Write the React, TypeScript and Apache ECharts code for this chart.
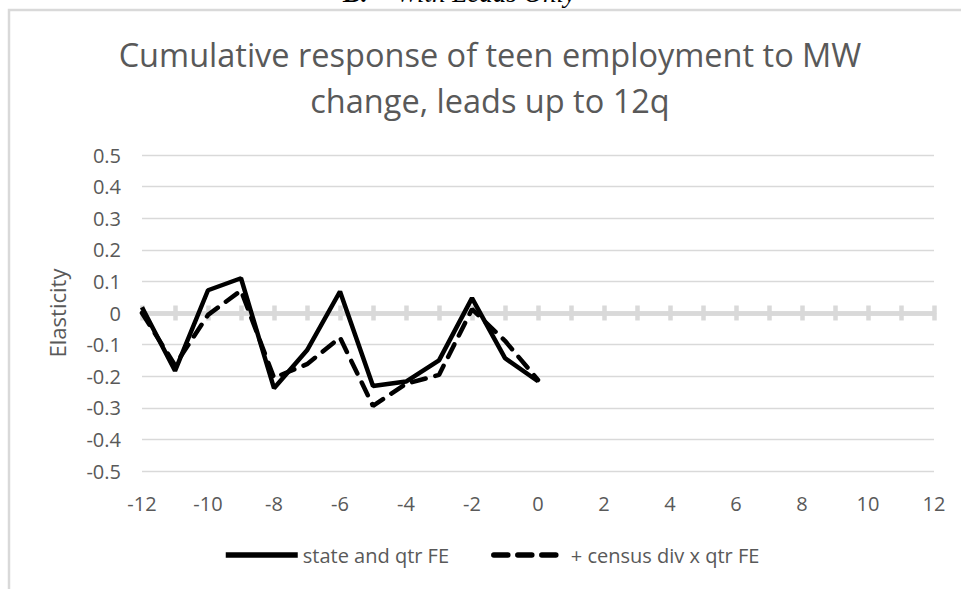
import React, { useEffect, useRef } from "react";
import * as echarts from "echarts";

const quarters = [-12, -11, -10, -9, -8, -7, -6, -5, -4, -3, -2, -1, 0];
const stateQtrFE = [0.018, -0.183, 0.072, 0.11, -0.238, -0.118, 0.068, -0.231, -0.217, -0.15, 0.047, -0.143, -0.216];
const censusDivFE = [0.0, -0.165, -0.006, 0.071, -0.205, -0.162, -0.078, -0.294, -0.224, -0.196, 0.012, -0.088, -0.212];
const seriesNames = ["state and qtr FE", "+ census div x qtr FE"];
const titleText = "Cumulative response of teen employment to MW\nchange, leads up to 12q";
const yAxisName = "Elasticity";

const FONT = "'Open Sans', 'Noto Sans', sans-serif";
const TXT = "#595959";
const GRID_GRAY = "#d9d9d9";

export default function App() {
  const ref = useRef<HTMLDivElement>(null);

  useEffect(() => {
    if (!ref.current) return;
    const chart = echarts.init(ref.current, null, { renderer: "svg" });
    const zeroAxis = (position: "top" | "bottom") => ({
      type: "value",
      position,
      min: -12,
      max: 12,
      interval: 1,
      axisLine: {
        show: true,
        onZero: true,
        onZeroAxisIndex: 0,
        lineStyle: { color: GRID_GRAY, width: 4.5 },
      },
      axisTick: { show: true, length: 7.5, lineStyle: { color: GRID_GRAY, width: 4.5 } },
      axisLabel: { show: false },
      splitLine: { show: false },
    });
    chart.setOption({
      animation: false,
      title: {
        text: titleText,
        left: 490,
        top: 31,
        textAlign: "center",
        padding: 0,
        textStyle: {
          fontFamily: FONT,
          fontSize: 32.5,
          fontWeight: "normal",
          color: TXT,
          lineHeight: 46,
        },
      },
      grid: { left: 142, right: 27, top: 155, bottom: 118, containLabel: false },
      xAxis: [
        {
          type: "value",
          position: "bottom",
          min: -12,
          max: 12,
          interval: 2,
          axisLine: { show: false, onZero: false },
          axisTick: { show: false },
          splitLine: { show: false },
          axisLabel: { margin: 22, fontFamily: FONT, fontSize: 20, color: TXT },
        },
        zeroAxis("bottom"),
        zeroAxis("top"),
      ],
      yAxis: {
        type: "value",
        min: -0.5,
        max: 0.5,
        interval: 0.1,
        axisLine: { show: false },
        axisTick: { show: false },
        splitLine: { show: true, lineStyle: { color: GRID_GRAY, width: 1.3 } },
        axisLabel: {
          margin: 21,
          fontFamily: FONT,
          fontSize: 20,
          color: TXT,
          formatter: (v: number) => String(Number(v.toFixed(1))),
        },
      },
      legend: {
        data: seriesNames,
        left: 223,
        top: 545,
        padding: 0,
        itemWidth: 72,
        itemHeight: 14,
        itemGap: 42,
        itemStyle: { opacity: 0 },
        lineStyle: { width: 5.5, color: "#000" },
        textStyle: { fontFamily: FONT, fontSize: 20, color: TXT },
      },
      graphic: [
        {
          type: "rect",
          z: -10,
          shape: { x: 9, y: 10, width: 1200, height: 1000 },
          style: { fill: "none", stroke: GRID_GRAY, lineWidth: 2.5 },
          silent: true,
        },
        {
          type: "text",
          x: 57,
          y: 313,
          rotation: Math.PI / 2,
          style: {
            text: yAxisName,
            align: "center",
            verticalAlign: "middle",
            fontFamily: FONT,
            fontSize: 22,
            fill: TXT,
          },
        },
        {
          type: "text",
          x: 343,
          y: -7,
          style: {
            text: "B.",
            align: "left",
            verticalAlign: "middle",
            fontFamily: "'Liberation Serif', 'Times New Roman', serif",
            fontSize: 27,
            fontStyle: "italic",
            fontWeight: "bold",
            fill: "#000",
          },
        },
        {
          type: "text",
          x: 396,
          y: -7,
          style: {
            text: "With Leads Only",
            align: "left",
            verticalAlign: "middle",
            fontFamily: "'Liberation Serif', 'Times New Roman', serif",
            fontSize: 27,
            fontStyle: "italic",
            fill: "#000",
          },
        },
      ],
      series: [
        {
          name: seriesNames[0],
          type: "line",
          xAxisIndex: 0,
          data: quarters.map((q, i) => [q, stateQtrFE[i]]),
          symbol: "none",
          showSymbol: false,
          lineStyle: { color: "#000", width: 4.5, type: "solid" },
          itemStyle: { color: "#000" },
          z: 5,
        },
        {
          name: seriesNames[1],
          type: "line",
          xAxisIndex: 0,
          data: quarters.map((q, i) => [q, censusDivFE[i]]),
          symbol: "none",
          showSymbol: false,
          lineStyle: { color: "#000", width: 4.5, type: [14, 10], cap: "round" },
          itemStyle: { color: "#000" },
          z: 5,
        },
      ],
    });
    return () => chart.dispose();
  }, []);

  return (
    <div
      ref={ref}
      style={{ position: "fixed", left: 0, top: 0, width: 961, height: 589, background: "#fff" }}
    />
  );
}
